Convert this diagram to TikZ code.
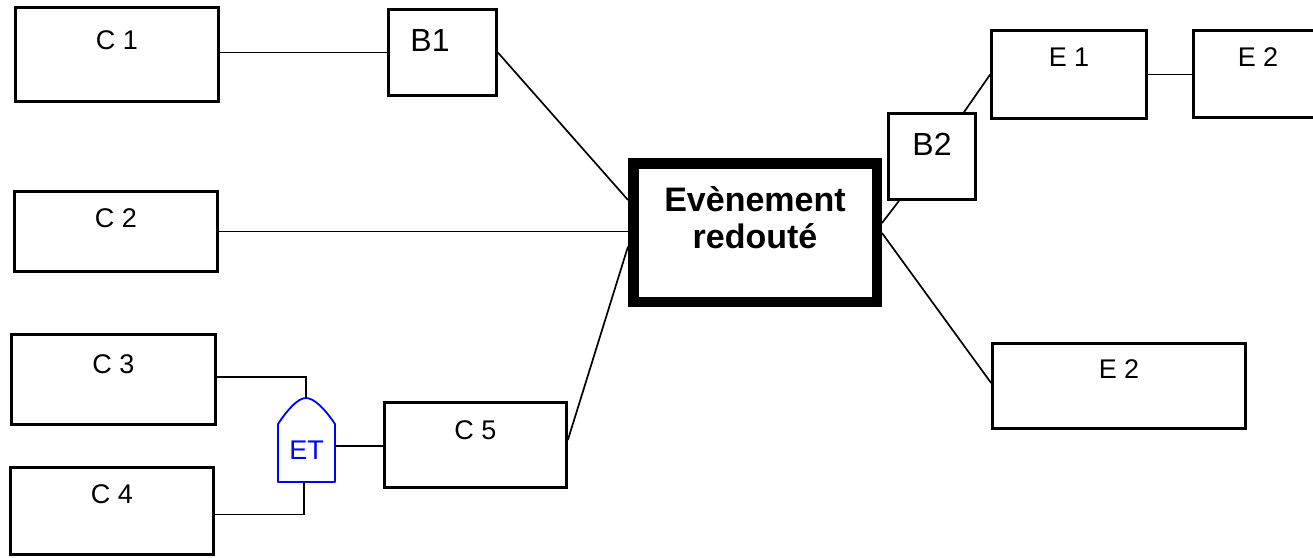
\documentclass[tikz,border=0pt]{standalone}
\usepackage{fontspec}
\setmainfont{Liberation Sans}
\begin{document}
\begin{tikzpicture}[x=1pt,y=-1pt,
  box/.style={draw, line width=2.7pt, inner sep=0pt, minimum width=#1},
  lbl/.style={inner sep=0pt, font=\fontsize{27}{32}\selectfont},
  blbl/.style={inner sep=0pt, font=\fontsize{32}{36}\selectfont},
  wire/.style={line width=1.7pt},
  gate/.style={draw=blue, line width=1.8pt, line join=round},
  gatetext/.style={inner sep=0pt, text=blue, font=\fontsize{27}{30}\selectfont}
]
\clip (0,0) rectangle (1313,557);
\fill[white] (0,0) rectangle (1313,557);

% causes on the left
\node[box=203pt, minimum height=94pt, label={[lbl,yshift=14.5pt]center:C 1}] (c1) at (117,54.5) {};
\node[box=108pt, minimum height=86pt, label={[blbl,xshift=-12.5pt,yshift=12.5pt]center:B1}] (b1) at (442.5,52.5) {};
\node[box=203pt, minimum height=80pt, label={[lbl,yshift=13.5pt]center:C 2}] (c2) at (116,231.5) {};
\node[box=204pt, minimum height=90pt, label={[lbl,yshift=15.5pt]center:C 3}] (c3) at (113.5,379.5) {};
\node[box=203pt, minimum height=87pt, label={[lbl,yshift=17pt]center:C 4}] (c4) at (112,511) {};
\node[box=182pt, minimum height=85pt, label={[lbl,yshift=15pt]center:C 5}] (c5) at (475.5,445) {};

% central event
\node[draw, line width=10.5pt, inner sep=0pt, minimum width=243.5pt, minimum height=138.5pt,
  label={[inner sep=0pt, align=center, yshift=15pt,
          font=\fontsize{34}{37}\selectfont\bfseries]center:Evènement\\redouté}] (ev) at (755,232.5) {};

% effects on the right
\node[box=87pt, minimum height=86pt, label={[blbl,yshift=12.5pt]center:B2}] (b2) at (932,156.5) {};
\node[box=155pt, minimum height=88pt, label={[lbl,yshift=17pt]center:E 1}] (e1) at (1069,74.5) {};
\node[box=129pt, minimum height=87pt, label={[lbl,yshift=16.5pt]center:E 2}] (e2a) at (1258,74) {};
\node[box=253pt, minimum height=85pt, label={[lbl,yshift=17pt]center:E 2}] (e2b) at (1119,386) {};

% AND gate
\draw[gate] (278,482) -- (278,424)
  .. controls (288,409) and (298,398) .. (306,398)
  .. controls (314,398) and (325,409) .. (335,424)
  -- (335,482) -- cycle;
\node[gatetext] (et) at (306.5,450) {ET};
\coordinate (gtop) at (306,398);
\coordinate (gbot) at (304,482);
\coordinate (gright) at (336,446);

% connectors
\draw[wire] (b1.west -| c1.east) -- (b1.west);
\draw[wire] (b1.east) -- ([yshift=32.5pt]ev.west);
\draw[wire] (c2.east) -- (c2.east -| ev.west);
\draw[wire] ([yshift=5pt]c5.east) -- ([yshift=-14pt]ev.west);
\draw[wire] ([yshift=2.5pt]c3.east) -| (gtop);
\draw[wire] ([yshift=-3.5pt]c4.east) -| (gbot);
\draw[wire] (gright) -- (gright -| c5.west);
\draw[wire] ([yshift=9.5pt]ev.east) -- ([xshift=-33pt]b2.south);
\draw[wire] ([xshift=32pt]b2.north) -- (e1.west);
\draw[wire] ([yshift=-0.5pt]ev.east) -- ([yshift=3pt]e2b.west);
\draw[wire] (e1.east) -- (e1.east -| e2a.west);
\end{tikzpicture}
\end{document}
